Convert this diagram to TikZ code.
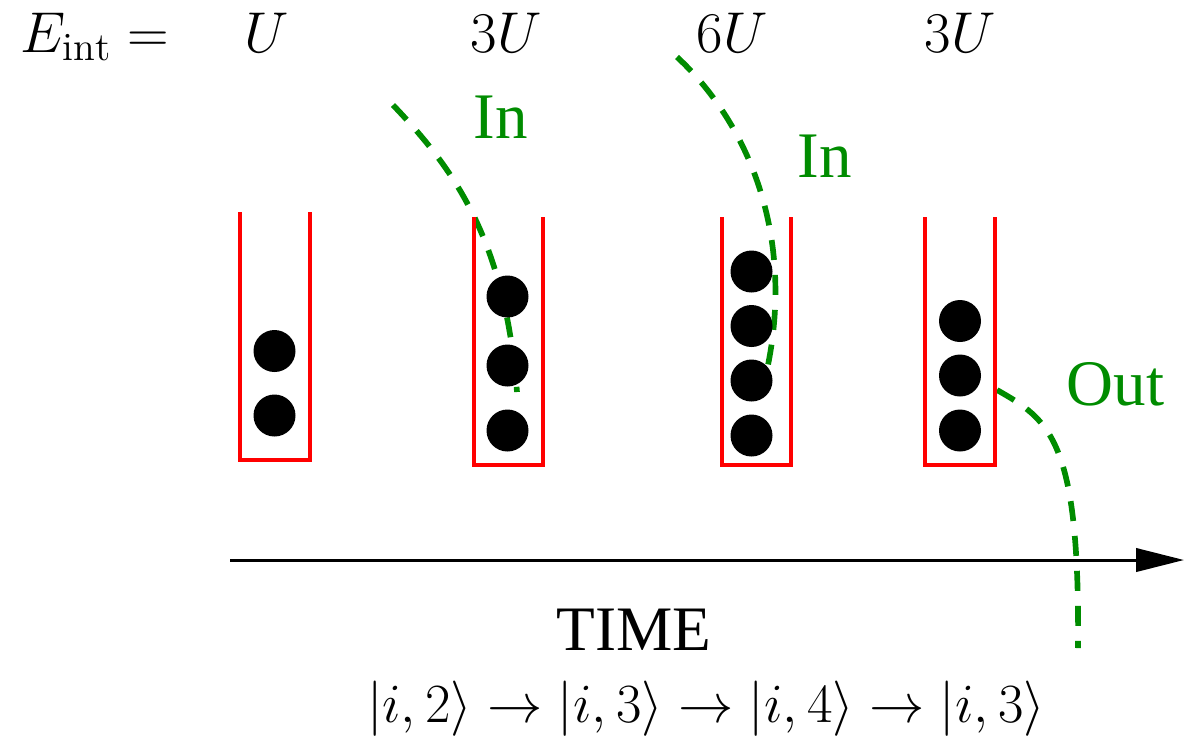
\documentclass[tikz,border=0pt]{standalone}
\usepackage{fontspec}
\usepackage{graphicx}
\newfontfamily\timesf{Liberation Serif}
\usetikzlibrary{arrows.meta}
\definecolor{dgreen}{RGB}{0,140,0}
\tikzset{
  box/.style={draw=red, line width=1.2pt},
  ball/.style={circle, fill=black, inner sep=0pt, minimum size=12.6pt},
  flow/.style={draw=dgreen, line width=1.7pt, dash pattern=on 6pt off 4.5pt},
  lbl/.style={inner sep=0pt, anchor=base, font=\LARGE},
  glbl/.style={inner sep=0pt, anchor=base west, text=dgreen, font=\fontsize{19.5}{22}\selectfont\timesf},
  timeax/.style={draw=black, line width=0.9pt, -{Triangle[length=14.4pt, width=7pt]}}
}
\begin{document}
\begin{tikzpicture}[x=0.3pt, y=-0.3pt]
\useasboundingbox (0,0) rectangle (1193,738);
% energy labels
\node[lbl, anchor=base west] (eint) at (20,52) {$E_{\mathrm{int}} =$};
\node[lbl] (e1) at (267,52) {$U$};
\node[lbl] (e2) at (506,52) {$3U$};
\node[lbl] (e3) at (732,52) {$6U$};
\node[lbl] (e4) at (960,52) {$3U$};
% dashed in/out flows
\coordinate (f1s) at (393,105);
\coordinate (f1e) at (517,392);
\draw[flow] (f1s) .. controls (455,170) and (505,240) .. (f1e);
\coordinate (f2s) at (677,57);
\coordinate (f2e) at (768,365);
\draw[flow] (f2s) .. controls (745,120) and (795,230) .. (f2e);
\coordinate (f3s) at (997,390);
\coordinate (f3e) at (1078,648);
\draw[flow] (f3s) .. controls (1050,420) and (1080,440) .. (f3e);
\node[glbl] (in1) at (473,138) {In};
\node[glbl] (in2) at (797,177) {In};
\node[glbl] (out) at (1066,405) {Out};
% boxes
\draw[box] (239.5,212) -- (239.5,460) -- (309.5,460) -- (309.5,212);
\draw[box] (473.5,217) -- (473.5,465) -- (543,465) -- (543,217);
\draw[box] (721.5,217) -- (721.5,465) -- (791,465) -- (791,217);
\draw[box] (925,217) -- (925,465) -- (995,465) -- (995,217);
% balls
\node[ball] (a1) at (274.5,351) {};
\node[ball] (a2) at (274.5,415.5) {};
\node[ball] (b1) at (507.5,296.5) {};
\node[ball] (b2) at (507.5,365.5) {};
\node[ball] (b3) at (507.5,430.5) {};
\node[ball] (c1) at (751.5,271.5) {};
\node[ball] (c2) at (751.5,326) {};
\node[ball] (c3) at (751.5,380.5) {};
\node[ball] (c4) at (751.5,435.5) {};
\node[ball] (d1) at (960,321) {};
\node[ball] (d2) at (960,375.5) {};
\node[ball] (d3) at (960,430.5) {};
% time axis
\coordinate (t0) at (230,560);
\coordinate (t1) at (1184,560);
\draw[timeax] (t0) -- (t1);
\node[inner sep=0pt, anchor=base, font=\fontsize{19}{22}\selectfont\timesf] (time) at (634,650) {TIME};
\node[lbl] (kets) at (706,722) {\scalebox{0.96}{$|i,2\rangle \rightarrow |i,3\rangle \rightarrow |i,4\rangle \rightarrow |i,3\rangle$}};
\end{tikzpicture}
\end{document}
